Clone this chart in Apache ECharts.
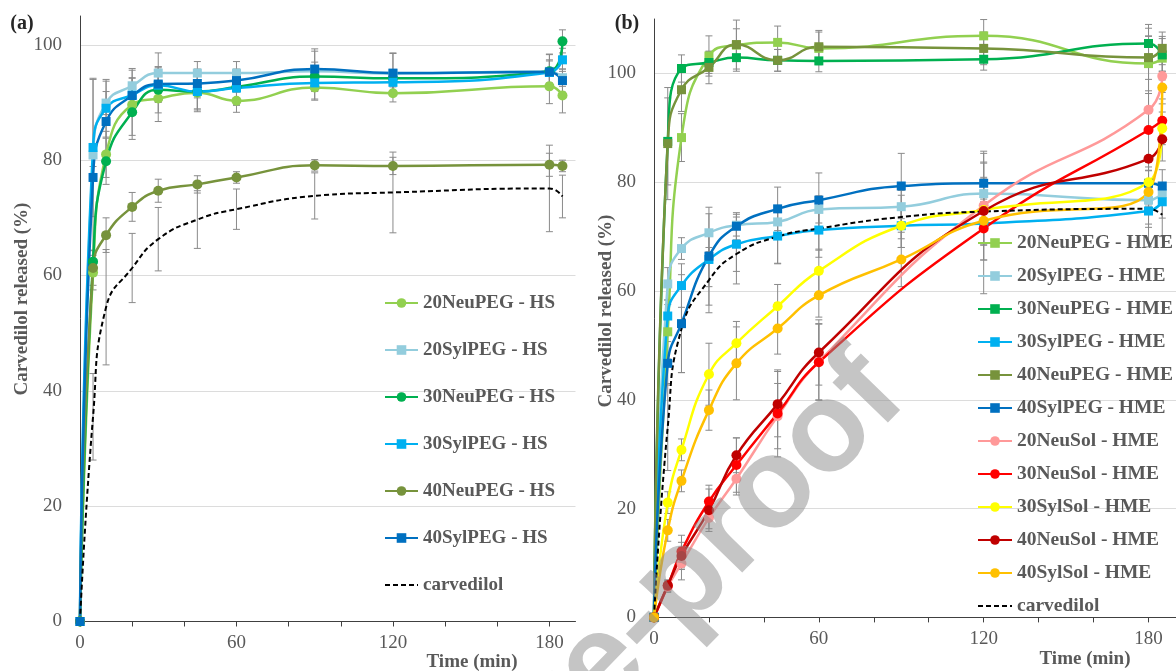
<!DOCTYPE html>
<html>
<head>
<meta charset="utf-8">
<script src="https://cdn.jsdelivr.net/npm/echarts@6/dist/echarts.min.js"></script>
<style>
  html, body { margin: 0; padding: 0; background: #fff; overflow: hidden; }
  #chart { width: 1176px; height: 671px; }
</style>
</head>
<body>
<div id="chart"></div>
<script>
// ---------- sampling times (min) ----------
const timesFull = [0, 5, 10, 20, 30, 45, 60, 90, 120, 180, 185];
const timesNo90 = [0, 5, 10, 20, 30, 45, 60, 120, 180, 185];

// ---------- axis ticks ----------
const yTickValues = [0, 20, 40, 60, 80, 100];
const xTickValues = [0, 20, 40, 60, 80, 100, 120, 140, 160, 180];
const xLabelValues = [0, 60, 120, 180];

// ---------- panel (a): PEG formulations, HS (mean % released) ----------
const hs20NeuPEG = [0, 60.5, 81.0, 89.6, 90.7, 91.7, 90.3, 92.6, 91.6, 92.8, 91.2];
const hs20SylPEG = [0, 80.9, 89.9, 92.9, 95.1, 95.1, 95.1, 95.4, 95.0, 95.4, 94.3];
const hs30NeuPEG = [0, 62.4, 79.8, 88.3, 92.2, 91.9, 92.7, 94.5, 94.2, 95.4, 100.6];
const hs30SylPEG = [0, 82.2, 89.0, 91.3, 93.0, 91.9, 92.5, 93.4, 93.5, 95.2, 97.4];
const hs40NeuPEG = [0, 61.3, 67.0, 71.9, 74.7, 75.8, 77.0, 79.1, 79.0, 79.2, 79.0];
const hs40SylPEG = [0, 77.0, 86.7, 91.2, 93.2, 93.3, 93.8, 95.8, 95.1, 95.3, 93.8];
const carvedilolA = [0, 35.5, 54.5, 61.3, 66.3, 69.7, 71.5, 73.8, 74.4, 75.1, 73.7];

// standard deviations, panel (a)
const hs20NeuPEGSd = [0, 3, 4, 6, 4, 3, 2, 2, 1.5, 3, 3];
const hs20SylPEGSd = [0, 2, 2, 3, 3.5, 2, 2, 3.5, 3.5, 2, 1.5];
const hs30NeuPEGSd = [0, 2, 4, 4, 4, 3.5, 3, 2.5, 1.5, 3, 2];
const hs30SylPEGSd = [0, 12, 5, 3, 3, 3, 3, 3, 2, 2, 2];
const hs40NeuPEGSd = [0, 3, 3, 2.5, 2, 1.5, 1, 1, 1.5, 2, 1];
const hs40SylPEGSd = [0, 17, 7, 3, 3, 2.5, 2, 3.5, 3.5, 3, 2];
const carvedilolASd = [0, 7.5, 10, 6, 5.5, 5, 3.5, 4, 7, 7.5, 3.7];

// ---------- panel (b): HME formulations (mean % released) ----------
const hme20NeuPEG = [0, 52.5, 88.2, 103.2, 105.2, 105.7, 104.6, 106.9, 101.8, 102.8];
const hme20SylPEG = [0, 61.3, 67.8, 70.7, 72.1, 72.7, 75.0, 75.5, 77.9, 76.7, 77.9];
const hme30NeuPEG = [0, 87.5, 100.9, 102.0, 102.9, 102.4, 102.3, 102.6, 105.5, 103.4];
const hme30SylPEG = [0, 55.4, 61.0, 65.8, 68.6, 70.1, 71.2, 72.0, 72.4, 74.7, 76.4];
const hme40NeuPEG = [0, 87.1, 97.0, 101.1, 105.3, 102.4, 104.9, 104.6, 102.9, 104.6];
const hme40SylPEG = [0, 46.7, 54.0, 66.4, 71.9, 75.1, 76.7, 79.3, 79.8, 79.8, 79.3];
const hme20NeuSol = [0, 5.6, 9.9, 18.3, 25.5, 37.0, 47.0, 75.7, 93.3, 99.5];
const hme30NeuSol = [0, 5.8, 12.1, 21.3, 28.0, 37.5, 46.9, 71.5, 89.6, 91.3];
const hme30SylSol = [0, 21.1, 30.8, 44.7, 50.4, 57.2, 63.7, 72.0, 74.9, 80.0, 89.9];
const hme40NeuSol = [0, 5.9, 11.3, 19.7, 29.8, 39.2, 48.7, 74.7, 84.3, 87.9];
const hme40SylSol = [0, 16.0, 25.1, 38.1, 46.7, 53.1, 59.2, 65.8, 72.9, 78.2, 97.4];
const carvedilolB = [0, 35.0, 53.0, 62.0, 66.8, 70.0, 71.5, 73.6, 74.6, 75.1, 74.0];

// standard deviations, panel (b)
const hme20NeuPEGSd = [0, 5, 4.4, 3.7, 3, 3, 3, 3, 5, 4];
const hme20SylPEGSd = [0, 3, 2, 3.5, 2, 2, 2.5, 3, 3, 2, 2];
const hme30NeuPEGSd = [0, 8, 2.5, 2, 2.5, 2, 2, 2, 3.5, 3];
const hme30SylPEGSd = [0, 3, 4, 5, 5, 5, 5, 4, 4, 3, 3];
const hme40NeuPEGSd = [0, 10.3, 4, 3, 4.5, 2, 3, 3, 4, 3];
const hme40SylPEGSd = [0, 4, 9, 9, 2.5, 4, 5, 6, 5.5, 3, 3];
const hme20NeuSolSd = [0, 1, 3, 2, 3, 6, 7, 10, 15, 3];
const hme30NeuSolSd = [0, 1, 3, 3, 5, 8, 7, 12, 14, 4];
const hme30SylSolSd = [0, 2, 2, 5.7, 4, 4, 4, 4, 3, 4, 3];
const hme40NeuSolSd = [0, 1, 2.5, 3.9, 3.2, 6, 6, 9, 12, 4];
const hme40SylSolSd = [0, 2, 2, 3.7, 6.7, 4.7, 4, 5, 4, 4, 3];
const carvedilolBSd = [0, 8, 8, 6, 5.5, 5, 4, 4, 6, 7, 4];

const SERIF = "'Liberation Serif', 'Times New Roman', serif";
const GREY_TEXT = '#595959';

const chart = echarts.init(document.getElementById('chart'), null, { renderer: 'canvas' });

function lineSeries(name, times, values, color, symbol, panel, dashed) {
  return {
    type: 'line',
    name: name,
    xAxisIndex: panel, yAxisIndex: panel,
    data: times.map((t, i) => [t, values[i]]),
    smooth: 0.5,
    symbol: dashed ? 'none' : symbol,
    symbolSize: symbol === 'rect' ? 9 : 10,
    showSymbol: !dashed,
    lineStyle: dashed ? { color: '#000', width: 2, type: [5, 3] } : { color: color, width: 2.5 },
    // the dashed line has no marker, so its legend marker stays invisible too
    itemStyle: { color: dashed ? 'rgba(0,0,0,0)' : color, borderWidth: 0 },
    emphasis: { disabled: true },
    z: 3
  };
}

function errorBars(times, values, sd, panel) {
  const data = [];
  times.forEach((t, i) => {
    if (sd[i] > 0) data.push([t, values[i] - sd[i], values[i] + sd[i]]);
  });
  return {
    type: 'custom',
    xAxisIndex: panel, yAxisIndex: panel,
    data: data,
    silent: true,
    z: 2,
    encode: { x: 0, y: [1, 2] },
    renderItem: function (params, api) {
      const top = api.coord([api.value(0), api.value(2)]);
      const bot = api.coord([api.value(0), api.value(1)]);
      const w = 3.5;
      const st = { stroke: '#8a8a8a', lineWidth: 1 };
      return {
        type: 'group',
        children: [
          { type: 'line', shape: { x1: top[0], y1: top[1], x2: bot[0], y2: bot[1] }, style: st },
          { type: 'line', shape: { x1: top[0] - w, y1: top[1], x2: top[0] + w, y2: top[1] }, style: st },
          { type: 'line', shape: { x1: bot[0] - w, y1: bot[1], x2: bot[0] + w, y2: bot[1] }, style: st }
        ]
      };
    }
  };
}

// panel (a) series definitions
const seriesA = [
  ['20NeuPEG - HS', timesFull, hs20NeuPEG, hs20NeuPEGSd, '#92D050', 'circle'],
  ['20SylPEG - HS', timesFull, hs20SylPEG, hs20SylPEGSd, '#93CDDD', 'rect'],
  ['30NeuPEG - HS', timesFull, hs30NeuPEG, hs30NeuPEGSd, '#00B050', 'circle'],
  ['30SylPEG - HS', timesFull, hs30SylPEG, hs30SylPEGSd, '#00B0F0', 'rect'],
  ['40NeuPEG - HS', timesFull, hs40NeuPEG, hs40NeuPEGSd, '#77933C', 'circle'],
  ['40SylPEG - HS', timesFull, hs40SylPEG, hs40SylPEGSd, '#0070C0', 'rect'],
  ['carvedilol', timesFull, carvedilolA, carvedilolASd, '#000000', 'none']
];

// panel (b) series definitions
const seriesB = [
  ['20NeuPEG - HME', timesNo90, hme20NeuPEG, hme20NeuPEGSd, '#92D050', 'rect'],
  ['20SylPEG - HME', timesFull, hme20SylPEG, hme20SylPEGSd, '#93CDDD', 'rect'],
  ['30NeuPEG - HME', timesNo90, hme30NeuPEG, hme30NeuPEGSd, '#00B050', 'rect'],
  ['30SylPEG - HME', timesFull, hme30SylPEG, hme30SylPEGSd, '#00B0F0', 'rect'],
  ['40NeuPEG - HME', timesNo90, hme40NeuPEG, hme40NeuPEGSd, '#77933C', 'rect'],
  ['40SylPEG - HME', timesFull, hme40SylPEG, hme40SylPEGSd, '#0070C0', 'rect'],
  ['20NeuSol - HME', timesNo90, hme20NeuSol, hme20NeuSolSd, '#FF9999', 'circle'],
  ['30NeuSol - HME', timesNo90, hme30NeuSol, hme30NeuSolSd, '#FF0000', 'circle'],
  ['30SylSol - HME', timesFull, hme30SylSol, hme30SylSolSd, '#FFFF00', 'circle'],
  ['40NeuSol - HME', timesNo90, hme40NeuSol, hme40NeuSolSd, '#C00000', 'circle'],
  ['40SylSol - HME', timesFull, hme40SylSol, hme40SylSolSd, '#FFC000', 'circle'],
  ['carvedilol', timesFull, carvedilolB, carvedilolBSd, '#000000', 'none']
];

const series = [];
seriesA.forEach(s => series.push(errorBars(s[1], s[2], s[3], 0)));
seriesB.forEach(s => series.push(errorBars(s[1], s[2], s[3], 1)));
seriesA.forEach(s => series.push(lineSeries(s[0], s[1], s[2], s[4], s[5], 0, s[0] === 'carvedilol')));
seriesB.forEach(s => series.push(lineSeries(s[0], s[1], s[2], s[4], s[5], 1, s[0] === 'carvedilol')));

function xAxis(gridIndex) {
  return {
    type: 'value', gridIndex: gridIndex,
    min: 0, max: 190, interval: 20,
    axisLine: { show: true, lineStyle: { color: '#404040', width: 1 } },
    axisTick: { show: true, inside: false, length: 5, customValues: xTickValues, lineStyle: { color: '#404040' } },
    axisLabel: { customValues: xLabelValues, margin: 12, fontFamily: SERIF, fontSize: 19, color: GREY_TEXT },
    splitLine: { show: false }
  };
}

function yAxis(gridIndex, max) {
  return {
    type: 'value', gridIndex: gridIndex,
    min: 0, max: max, interval: 20,
    axisLine: { show: true, lineStyle: { color: '#404040', width: 1 } },
    axisTick: { show: false },
    axisLabel: { customValues: yTickValues, margin: 18, fontFamily: SERIF, fontSize: 19, color: GREY_TEXT },
    splitLine: {
      show: true,
      lineStyle: { color: ['#dcdcdc', '#dcdcdc', '#dcdcdc', '#dcdcdc', '#dcdcdc', '#dcdcdc', 'rgba(0,0,0,0)'], width: 1 }
    }
  };
}

const legendText = { fontFamily: SERIF, fontWeight: 'bold', color: GREY_TEXT };

const option = {
  animation: false,
  backgroundColor: '#ffffff',
  grid: [
    { left: 80, top: 16, width: 495.5, height: 605.5 },
    { left: 654, top: 19, width: 531, height: 598.4 }
  ],
  xAxis: [xAxis(0), xAxis(1)],
  yAxis: [yAxis(0, 105), yAxis(1, 110)],
  legend: [
    {
      orient: 'vertical', left: 384, top: 293, padding: 0,
      itemWidth: 33, itemHeight: 12, itemGap: 27,
      textStyle: Object.assign({ fontSize: 19, lineHeight: 20 }, legendText),
      data: seriesA.map(s => s[0]),
      selectedMode: false
    },
    {
      orient: 'vertical', left: 977, top: 233, padding: 0,
      itemWidth: 34, itemHeight: 12, itemGap: 13,
      textStyle: Object.assign({ fontSize: 19.5, lineHeight: 20 }, legendText),
      data: seriesB.map(s => s[0]),
      selectedMode: false
    }
  ],
  graphic: [
    { type: 'text', x: 22, y: 24, style: { text: '(a)', font: "bold 20px " + SERIF, fill: '#262626', align: 'center', verticalAlign: 'middle', textAlign: 'center', textVerticalAlign: 'middle' } },
    { type: 'text', x: 627, y: 24, style: { text: '(b)', font: "bold 20px " + SERIF, fill: '#262626', align: 'center', verticalAlign: 'middle', textAlign: 'center', textVerticalAlign: 'middle' } },
    { type: 'text', x: 22, y: 299, rotation: Math.PI / 2, style: { text: 'Carvedilol released (%)', font: "bold 19px " + SERIF, fill: GREY_TEXT, align: 'center', verticalAlign: 'middle', textAlign: 'center', textVerticalAlign: 'middle' } },
    { type: 'text', x: 606, y: 311, rotation: Math.PI / 2, style: { text: 'Carvedilol released (%)', font: "bold 19px " + SERIF, fill: GREY_TEXT, align: 'center', verticalAlign: 'middle', textAlign: 'center', textVerticalAlign: 'middle' } },
    { type: 'text', x: 472, y: 662, style: { text: 'Time (min)', font: "bold 19px " + SERIF, fill: GREY_TEXT, align: 'center', verticalAlign: 'middle', textAlign: 'center', textVerticalAlign: 'middle' } },
    { type: 'text', x: 1085, y: 659, style: { text: 'Time (min)', font: "bold 19px " + SERIF, fill: GREY_TEXT, align: 'center', verticalAlign: 'middle', textAlign: 'center', textVerticalAlign: 'middle' } },
    // "Journal Pre-proof" stamp across the lower part of panel (b)
    { type: 'text', x: 884, y: 376, rotation: 0.8, z: 100, silent: true,
      style: { text: 'Journal Pre-proof', font: "bold 128px 'Liberation Sans', Arial, sans-serif", fill: 'rgba(140,140,140,0.5)', align: 'right', verticalAlign: 'middle', textAlign: 'right', textVerticalAlign: 'middle' } }
  ],
  series: series
};

chart.setOption(option);
</script>
</body>
</html>
